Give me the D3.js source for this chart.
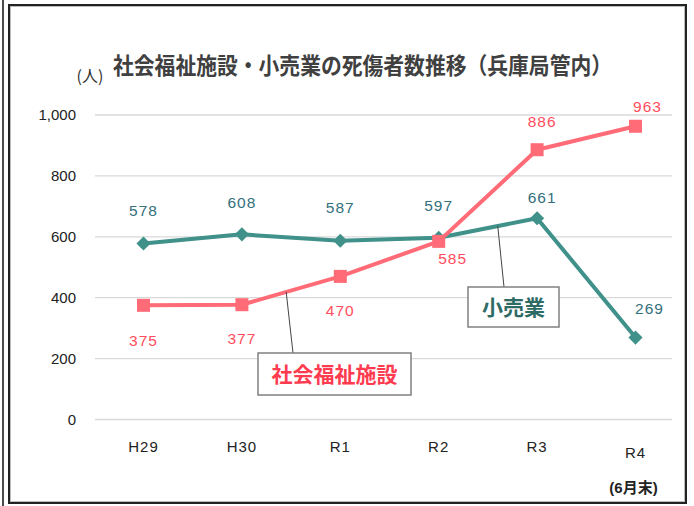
<!DOCTYPE html>
<html>
<head>
<meta charset="utf-8">
<script src="https://cdn.jsdelivr.net/npm/d3@7"></script>
<style>
  body { margin: 0; background: #fff; }
  svg { display: block; }
</style>
</head>
<body>
<div id="chart"></div>
<script>
// data
const years = ["H29", "H30", "R1", "R2", "R3", "R4"];
const welfare = [375, 377, 470, 585, 886, 963];   // 社会福祉施設
const retail = [578, 608, 587, 597, 661, 269];    // 小売業
const yTicks = [0, 200, 400, 600, 800, 1000];

// label offsets (dx, dy) relative to each point
const welfareLabelOff = [[0, 35], [0, 34], [0, 34], [14, 17], [5, -28], [12, -20]];
const retailLabelOff = [[0, -33], [0, -32], [0, -33], [0, -32], [5, -21], [14, -29]];

const W = 694, H = 506;
const pink = "#ff6b77", pinkText = "#ff4d5e";
const teal = "#3f918a", tealText = "#336f7c";

const svg = d3.select("#chart").append("svg")
  .attr("width", W).attr("height", H);

// frame
svg.append("line").attr("x1", 3).attr("x2", 3).attr("y1", 0).attr("y2", H)
  .attr("stroke", "#111").attr("stroke-width", 1.5);
svg.append("rect").attr("x", 9).attr("y", 5).attr("width", 677).attr("height", 498)
  .attr("fill", "none").attr("stroke", "#222").attr("stroke-width", 2);
svg.append("rect").attr("x", 10.5).attr("y", 6.5).attr("width", 674).attr("height", 495)
  .attr("fill", "none").attr("stroke", "#bbb").attr("stroke-width", 1);

const x = d3.scalePoint().domain(years).range([143.5, 635.5]);
const y = d3.scaleLinear().domain([0, 1000]).range([419.5, 115]);

// gridlines
svg.append("g").selectAll("line").data(yTicks).join("line")
  .attr("x1", 95).attr("x2", 672)
  .attr("y1", d => y(d)).attr("y2", d => y(d))
  .attr("stroke", "#d9d9d9").attr("stroke-width", 1.3);

const sans = "Liberation Sans, Arial, sans-serif";

// y tick labels
svg.append("g").selectAll("text").data(yTicks).join("text")
  .attr("x", 76).attr("y", d => y(d)).attr("dy", "0.35em")
  .attr("text-anchor", "end")
  .attr("font-family", sans)
  .attr("font-size", 15).attr("fill", "#222")
  .text(d => d3.format(",")(d));

// x labels
svg.append("g").selectAll("text").data(years).join("text")
  .attr("x", d => x(d)).attr("y", (d, i) => i === 5 ? 458 : 452)
  .attr("text-anchor", "middle")
  .attr("font-family", sans)
  .attr("font-size", 15).attr("letter-spacing", 1).attr("fill", "#222")
  .text(d => d);
svg.append("text")
  .attr("x", x("R4") - 2).attr("y", 493)
  .attr("text-anchor", "middle")
  .attr("font-family", "Liberation Sans, 'Noto Sans CJK JP', sans-serif")
  .attr("font-size", 15).attr("font-weight", "bold").attr("fill", "#222")
  .text("(6月末)");

// unit + title
svg.append("text").attr("x", 90).attr("y", 82).attr("text-anchor", "middle")
  .attr("font-family", "'Noto Sans CJK JP', sans-serif")
  .attr("font-size", 16).attr("fill", "#333").text("(人)");
svg.append("text").attr("x", 113).attr("y", 74)
  .attr("font-family", "'Noto Sans CJK JP', sans-serif")
  .attr("font-weight", "bold").attr("font-size", 23).attr("fill", "#404040")
  .attr("textLength", 499).attr("lengthAdjust", "spacingAndGlyphs")
  .text("社会福祉施設・小売業の死傷者数推移（兵庫局管内）");

const line = d3.line().x((d, i) => x(years[i])).y(d => y(d));

// lines
svg.append("path").datum(retail).attr("d", line)
  .attr("fill", "none").attr("stroke", teal).attr("stroke-width", 4)
  .attr("stroke-linejoin", "round");
svg.append("path").datum(welfare).attr("d", line)
  .attr("fill", "none").attr("stroke", pink).attr("stroke-width", 4)
  .attr("stroke-linejoin", "round");

// markers
svg.append("g").selectAll("path").data(retail).join("path")
  .attr("d", d3.symbol(d3.symbolSquare, 100))
  .attr("transform", (d, i) => `translate(${x(years[i])},${y(d)}) rotate(45)`)
  .attr("fill", teal);
svg.append("g").selectAll("rect").data(welfare).join("rect")
  .attr("x", (d, i) => x(years[i]) - 6.5).attr("y", d => y(d) - 6.5)
  .attr("width", 13).attr("height", 13)
  .attr("fill", pink);

// value labels
svg.append("g").selectAll("text").data(retail).join("text")
  .attr("x", (d, i) => x(years[i]) + retailLabelOff[i][0])
  .attr("y", (d, i) => y(d) + retailLabelOff[i][1])
  .attr("dy", "0.35em").attr("text-anchor", "middle")
  .attr("font-family", sans).attr("font-size", 15.5)
  .attr("letter-spacing", 1).attr("fill", tealText)
  .text(d => d);
svg.append("g").selectAll("text").data(welfare).join("text")
  .attr("x", (d, i) => x(years[i]) + welfareLabelOff[i][0])
  .attr("y", (d, i) => y(d) + welfareLabelOff[i][1])
  .attr("dy", "0.35em").attr("text-anchor", "middle")
  .attr("font-family", sans).attr("font-size", 15.5)
  .attr("letter-spacing", 1).attr("fill", pinkText)
  .text(d => d);

// callouts: leader starts on a segment of the series line
function onSeg(vals, i, t) {
  const x0 = x(years[i]), x1 = x(years[i + 1]);
  return [x0 + (x1 - x0) * t, y(vals[i]) + (y(vals[i + 1]) - y(vals[i])) * t];
}
function callout(p, box, label, color, size) {
  svg.append("line")
    .attr("x1", p[0]).attr("y1", p[1])
    .attr("x2", box.lx).attr("y2", box.y)
    .attr("stroke", "#444").attr("stroke-width", 1);
  svg.append("rect")
    .attr("x", box.x).attr("y", box.y).attr("width", box.w).attr("height", box.h)
    .attr("fill", "#fff").attr("stroke", "#808080").attr("stroke-width", 1.5);
  svg.append("text")
    .attr("x", box.x + box.w / 2).attr("y", box.y + box.h / 2).attr("dy", "0.36em")
    .attr("text-anchor", "middle")
    .attr("font-family", "'Noto Sans CJK JP', sans-serif")
    .attr("font-weight", "bold").attr("font-size", size).attr("fill", color)
    .text(label);
}
callout(onSeg(welfare, 1, 0.45), {x: 258, y: 353, w: 153, h: 42, lx: 293}, "社会福祉施設", "#ff3b4f", 21);
callout(onSeg(retail, 3, 0.6), {x: 468, y: 287, w: 91, h: 40, lx: 504}, "小売業", "#2e6b64", 21);
</script>
</body>
</html>
